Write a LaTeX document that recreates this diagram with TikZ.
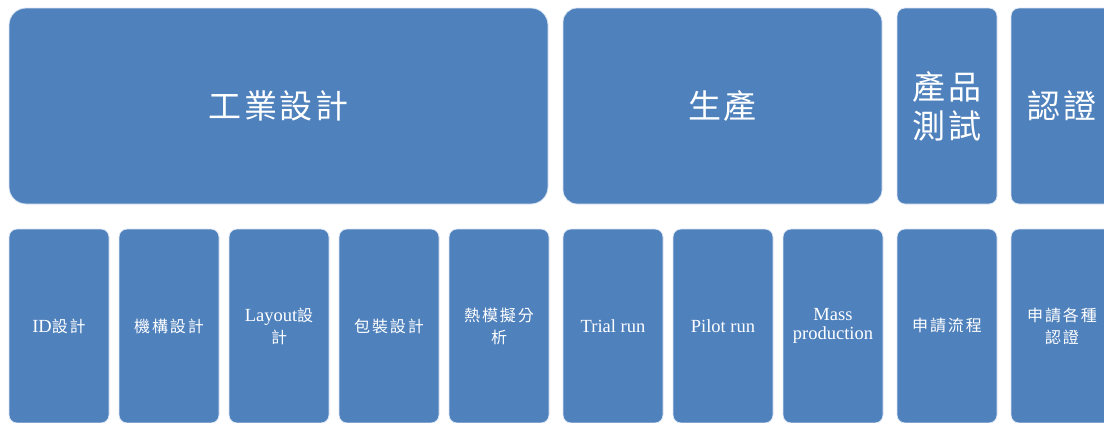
\documentclass[tikz,border=0pt]{standalone}
\usepackage{fontspec}
\setmainfont{Liberation Serif}
\newfontfamily\cjksmall{Noto Sans CJK TC}[LetterSpace=12]
\newfontfamily\cjkbig{Noto Sans CJK TC}[LetterSpace=8]
\newcommand\zht[1]{{\cjksmall\fontsize{16}{22}\selectfont #1}}
\definecolor{boxblue}{HTML}{4F81BD}
\begin{document}
\begin{tikzpicture}[x=1pt,y=-1pt,
  box/.style={draw=white!80!boxblue, line width=0.8pt, fill=boxblue, text=white,
    inner sep=0pt, align=center, rounded corners=8pt},
  topbox/.style={box, minimum height=196pt, font=\cjkbig\fontsize{33}{41}\selectfont},
  subbox/.style={box, minimum width=100pt, minimum height=194pt,
    font=\fontsize{18.5}{22}\selectfont}]
\useasboundingbox (0,0) rectangle (1104,423);
\clip (0,0) rectangle (1104,423);
% top row
\node[topbox, minimum width=539pt, rounded corners=17pt] (t1) at (278.5,106) {工業設計};
\node[topbox, minimum width=319pt, rounded corners=14pt] (t2) at (722.5,106) {生產};
\node[topbox, minimum width=100pt] (t3) at (947,106) {產品\\[-2pt]測試};
\node[topbox, minimum width=102pt] (t4) at (1062,106) {認證};
% bottom row
\node[subbox, text depth=0pt] (b1) at (59,326) {ID\zht{設計}};
\node[subbox] (b2) at (169,326) {\zht{機構設計}};
\node[subbox] (b3) at (279,326) {Layout\zht{設}\\\zht{計}};
\node[subbox] (b4) at (389,326) {\zht{包裝設計}};
\node[subbox] (b5) at (499,326) {\zht{熱模擬分}\\\zht{析}};
\node[subbox] (b6) at (613,326) {Trial run};
\node[subbox] (b7) at (723,326) {Pilot run};
\node[subbox] (b8) at (833,326) {Mass\\[-3pt]production};
\node[subbox] (b9) at (947,326) {\zht{申請流程}};
\node[subbox, minimum width=102pt] (b10) at (1062,326) {\zht{申請各種}\\\zht{認證}};
\end{tikzpicture}
\end{document}
